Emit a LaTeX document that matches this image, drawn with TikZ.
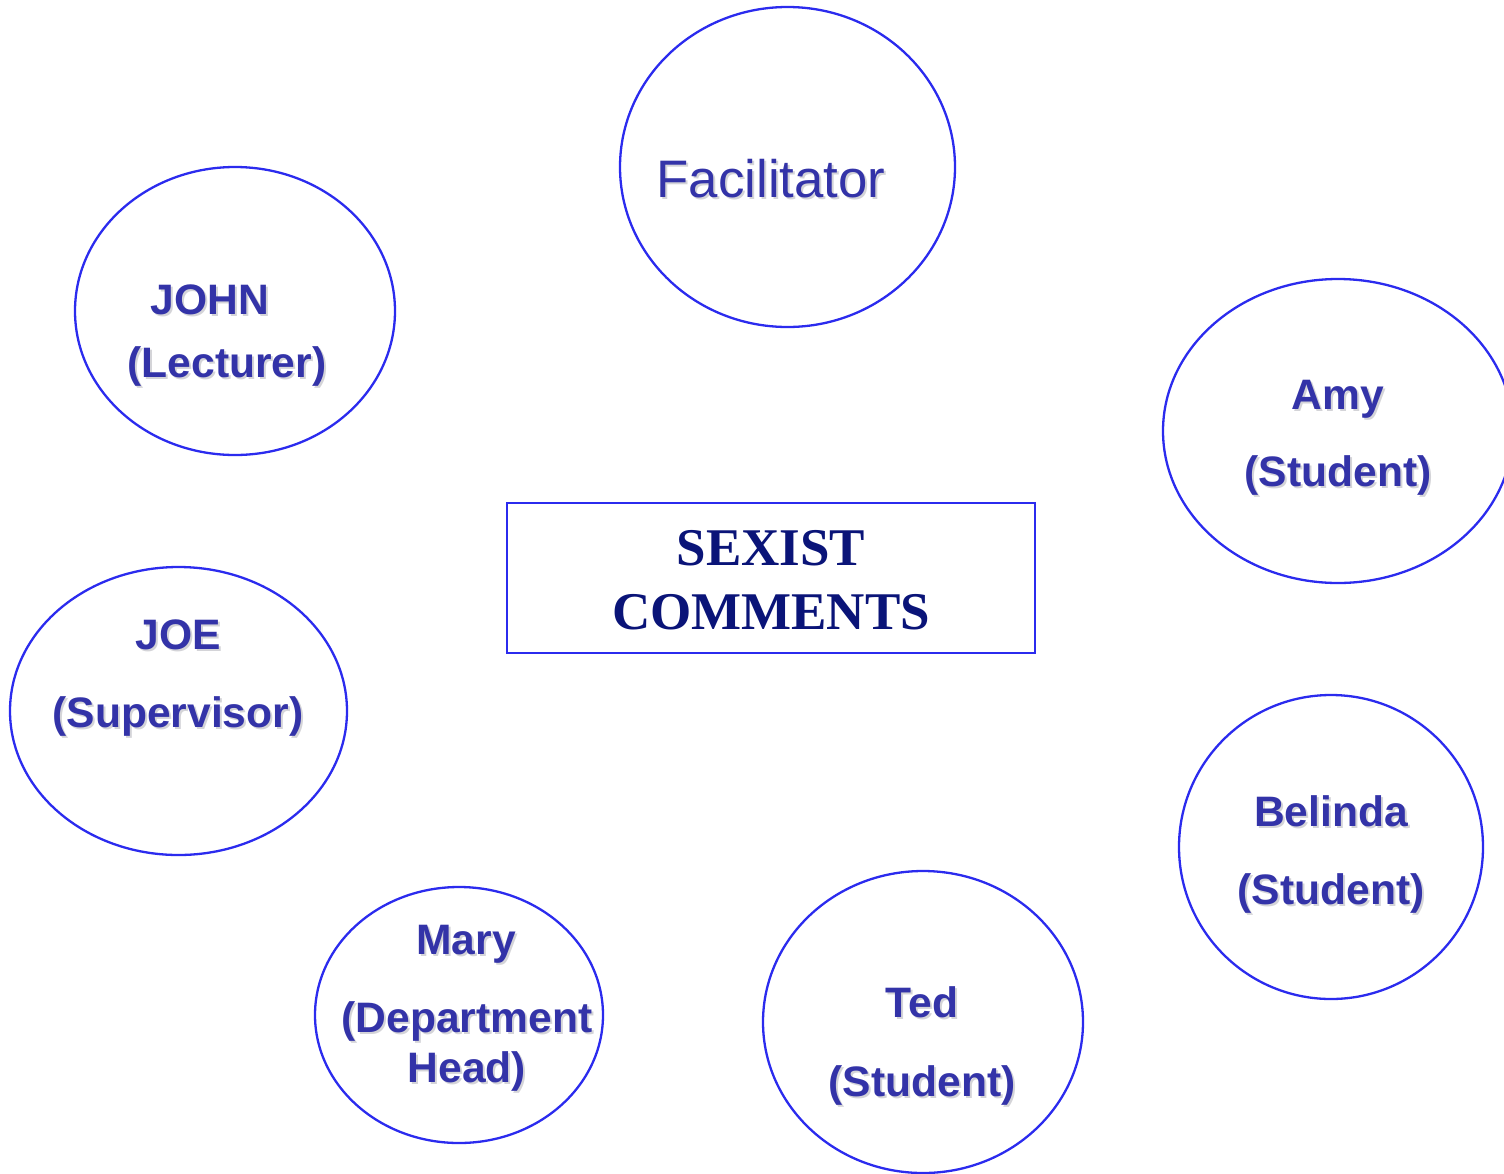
\documentclass[tikz,border=0pt]{standalone}
\usepackage{fontspec}
\setmainfont{Liberation Sans}
\newfontfamily\serifbf{Liberation Serif}
\usetikzlibrary{shapes.geometric}
\definecolor{ringblue}{HTML}{2B2BEE}
\definecolor{lblblue}{HTML}{3333A8}
\definecolor{navy}{HTML}{0A1478}
\definecolor{shad}{HTML}{D4D4D8}
\newcommand\shtxt[1]{\makebox[0pt][l]{\kern1pt\raisebox{-1pt}{\color{shad}#1}}#1}
\tikzset{
  ring/.style={ellipse, draw=ringblue, line width=1.15pt, inner sep=0pt},
  lbl/.style={anchor=base, inner sep=0pt, text=lblblue, font=\fontsize{21.3}{24}\selectfont\bfseries},
  facl/.style={anchor=base, inner sep=0pt, text=lblblue, font=\fontsize{26.4}{30}\selectfont},
  boxtxt/.style={anchor=base, inner sep=0pt, text=navy, font=\fontsize{26.5}{30}\selectfont\serifbf\bfseries},
}
\begin{document}
\begin{tikzpicture}[x=0.5pt,y=-0.5pt]
\useasboundingbox (0,0) rectangle (1504,1173);
% ellipses
\node[ring, minimum width=167.5pt, minimum height=160pt] (fac) at (787.5,167) {};
\node[ring, minimum width=160pt, minimum height=144pt] (john) at (235,311) {};
\node[ring, minimum width=175pt, minimum height=152pt] (amy) at (1338,431) {};
\node[ring, minimum width=168.5pt, minimum height=144pt] (joe) at (178.5,711) {};
\node[ring, minimum width=152pt, minimum height=152pt] (belinda) at (1331,847) {};
\node[ring, minimum width=144pt, minimum height=128pt] (mary) at (459,1015) {};
\node[ring, minimum width=160pt, minimum height=151pt] (ted) at (923,1022) {};
% central box
\node[draw=ringblue, line width=1pt, minimum width=264pt, minimum height=75pt, inner sep=0pt] (sexist) at (771,578) {};
\node[boxtxt] (sx1) at (771,565) {SEXIST};
\node[boxtxt] (sx2) at (771,629) {COMMENTS};
% labels
\node[facl] (facT) at (771,197) {\shtxt{Facilitator}};
\node[lbl] (johnA) at (210,314) {\shtxt{JOHN}};
\node[lbl] (johnB) at (227,377) {\shtxt{(Lecturer)}};
\node[lbl] (amyA) at (1338,409) {\shtxt{Amy}};
\node[lbl] (amyB) at (1338,486) {\shtxt{(Student)}};
\node[lbl] (joeA) at (178,649) {\shtxt{JOE}};
\node[lbl] (joeB) at (178,727) {\shtxt{(Supervisor)}};
\node[lbl] (belA) at (1331,826) {\shtxt{Belinda}};
\node[lbl] (belB) at (1331,904) {\shtxt{(Student)}};
\node[lbl] (maryA) at (466,954) {\shtxt{Mary}};
\node[lbl] (maryB) at (467,1032) {\shtxt{(Department}};
\node[lbl] (maryC) at (467,1082) {\shtxt{Head)}};
\node[lbl] (tedA) at (922,1017) {\shtxt{Ted}};
\node[lbl] (tedB) at (922,1096) {\shtxt{(Student)}};
\end{tikzpicture}
\end{document}
